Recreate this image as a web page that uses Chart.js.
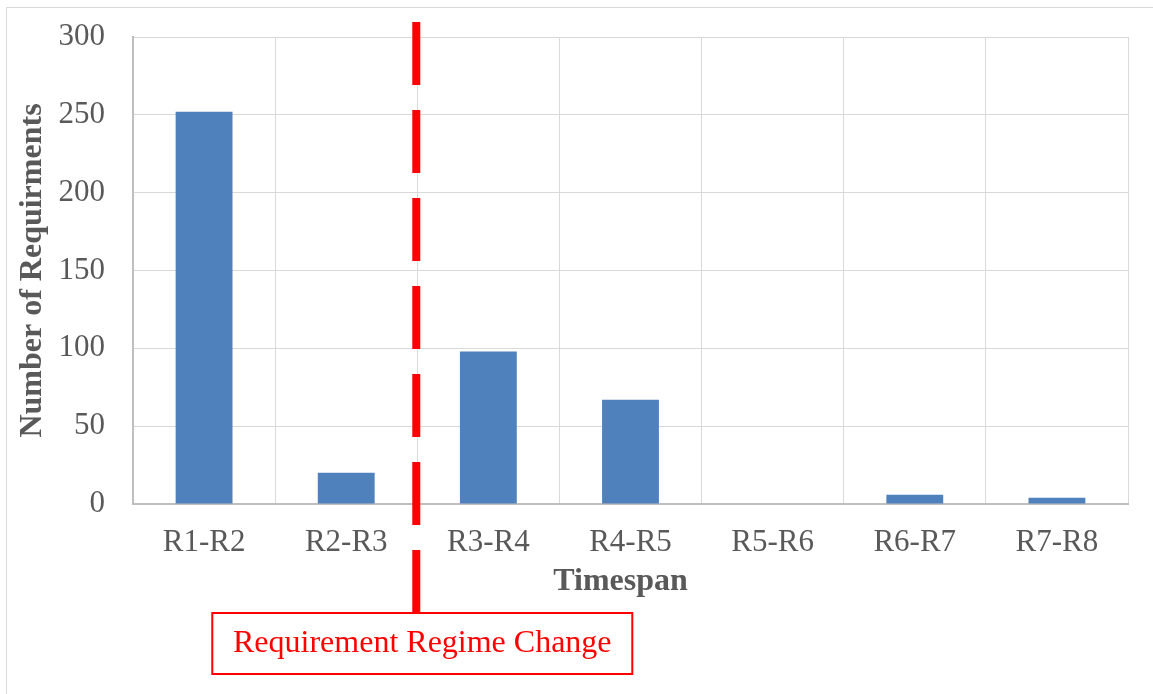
<!DOCTYPE html>
<html><head><meta charset="utf-8">
<script src="https://cdn.jsdelivr.net/npm/chart.js@4.4.1/dist/chart.umd.min.js"></script>
<style>html,body{margin:0;padding:0;background:#fff}canvas{display:block}</style>
</head><body>
<canvas id="c" width="1153" height="694"></canvas>
<script>
const categories = ['R1-R2', 'R2-R3', 'R3-R4', 'R4-R5', 'R5-R6', 'R6-R7', 'R7-R8'];
const requirementCounts = [252, 20, 98, 67, 0, 6, 4];
const yTickValues = [0, 50, 100, 150, 200, 250, 300];
const regimeChangeAfterIndex = 1;
const annotationLabel = 'Requirement Regime Change';
const xTitle = 'Timespan';
const yTitle = 'Number of Requirments';

const FONT = "'Liberation Serif', 'Times New Roman', serif";
const GRAY = '#595959';

const overlay = {
  id: 'overlay',
  beforeDraw(chart) {
    const ctx = chart.ctx;
    ctx.save();
    ctx.fillStyle = '#ffffff';
    ctx.fillRect(0, 0, chart.width, chart.height);
    ctx.strokeStyle = '#D9D9D9';
    ctx.lineWidth = 1;
    ctx.strokeRect(6.5, 7.5, chart.width + 20, chart.height + 20);
    ctx.restore();
  },
  afterDraw(chart) {
    const ctx = chart.ctx;
    const xs = chart.scales.x;
    const ca = chart.chartArea;
    ctx.save();
    // x axis title
    ctx.fillStyle = GRAY;
    ctx.font = 'bold 32px ' + FONT;
    ctx.textAlign = 'center';
    ctx.textBaseline = 'alphabetic';
    ctx.fillText(xTitle, (ca.left + ca.right) / 2 - 10, ca.bottom + 86);

    const px = (xs.getPixelForValue(regimeChangeAfterIndex) + xs.getPixelForValue(regimeChangeAfterIndex + 1)) / 2 - 1;
    const boxTop = 613, boxH = 61, boxLeft = px - 204, boxW = 420;
    ctx.strokeStyle = '#FF0000';
    ctx.lineWidth = 8;
    ctx.setLineDash([63, 25]);
    ctx.beginPath();
    ctx.moveTo(px, ca.top - 15);
    ctx.lineTo(px, boxTop);
    ctx.stroke();
    ctx.setLineDash([]);
    ctx.lineWidth = 2;
    ctx.fillStyle = '#ffffff';
    ctx.fillRect(boxLeft, boxTop, boxW, boxH);
    ctx.strokeRect(boxLeft, boxTop, boxW, boxH);
    ctx.fillStyle = '#FF0000';
    ctx.font = '32px ' + FONT;
    ctx.textAlign = 'center';
    ctx.textBaseline = 'middle';
    ctx.fillText(annotationLabel, boxLeft + boxW / 2, boxTop + boxH / 2);
    ctx.restore();
  }
};

new Chart(document.getElementById('c'), {
  type: 'bar',
  data: {
    labels: categories,
    datasets: [{
      data: requirementCounts,
      backgroundColor: '#4F81BD',
      borderWidth: 0,
      categoryPercentage: 1.0,
      barPercentage: 0.4
    }]
  },
  options: {
    responsive: false,
    animation: false,
    layout: { padding: { top: 37, right: 25, bottom: 94, left: 0 } },
    plugins: { legend: { display: false }, tooltip: { enabled: false } },
    scales: {
      x: {
        grid: { color: '#D9D9D9', lineWidth: 1, drawTicks: false, offset: true },
        border: { color: '#BFBFBF', width: 2 },
        ticks: { color: GRAY, font: { family: FONT, size: 31 }, padding: 20 },
        title: { display: false },
        afterFit(scale) { scale.height = 96; scale.paddingLeft = 0; scale.paddingRight = 0; }
      },
      y: {
        min: 0, max: 300,
        afterBuildTicks(scale) { scale.ticks = yTickValues.map(v => ({ value: v })); },
        grid: { color: '#D9D9D9', lineWidth: 1, drawTicks: false },
        border: { color: '#BFBFBF', width: 2 },
        ticks: { color: GRAY, font: { family: FONT, size: 31 }, padding: 28 },
        title: { display: true, text: yTitle, color: GRAY, font: { family: FONT, size: 32, weight: 'bold' }, padding: { top: 14, bottom: 0 } },
        afterFit(scale) { scale.width = 133; scale.paddingTop = 0; scale.paddingBottom = 0; }
      }
    }
  },
  plugins: [overlay]
});
</script>
</body></html>
